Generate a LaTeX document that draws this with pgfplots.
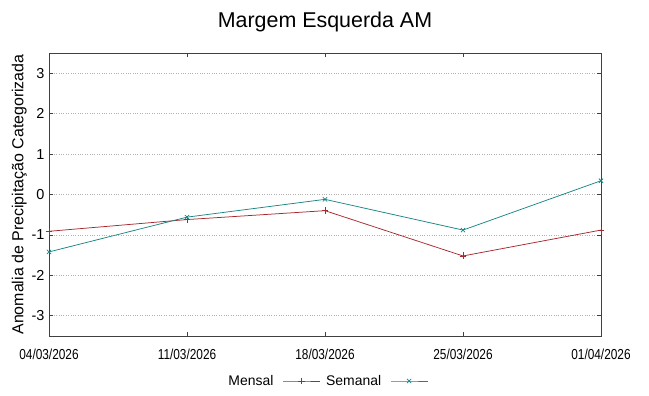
\documentclass[border=0pt]{standalone}
\usepackage{pgfplots}
\pgfplotsset{compat=1.18}
\usepackage{fontspec}
\setmainfont{Liberation Sans}
\definecolor{mensal}{HTML}{A82830}
\definecolor{semanal}{HTML}{1A8585}
\begin{document}
\begin{tikzpicture}
\path[use as bounding box] (-49bp,-60bp) rectangle (600bp,336bp);
\begin{axis}[
  at={(0,0)}, anchor=south west,
  scale only axis, width=552bp, height=283bp,
  xmin=0, xmax=4, ymin=-3.5, ymax=3.5,
  xtick={0,1,2,3,4},
  ytick={-3,-2,-1,0,1,2,3},
  tick align=inside, tick pos=both,
  major tick length=4bp,
  axis line style={draw=black!75, line width=0.9pt},
  every tick/.style={black!75, line width=0.8pt},
  ymajorgrids,
  grid style={dotted, gray!60, line width=0.7pt},
  /pgf/number format/assume math mode=true,
  yticklabel style={font=\fontsize{14.5}{16}\selectfont, xshift=-1bp},
  xticklabel style={font=\fontsize{14.5}{16}\selectfont, yshift=-10bp},
  xticklabels={\scalebox{0.82}[1]{04/03/2026},\scalebox{0.82}[1]{11/03/2026},\scalebox{0.82}[1]{18/03/2026},\scalebox{0.82}[1]{25/03/2026},\scalebox{0.82}[1]{01/04/2026}},
  ylabel={Anomalia de Precipitação Categorizada},
  ylabel style={font=\fontsize{16}{18}\selectfont, yshift=-2bp},
  title={Margem Esquerda AM},
  title style={font=\fontsize{21.5}{24}\selectfont, yshift=12bp},
  legend columns=2,
  legend plot pos=right,
  legend style={at={(0.504,-0.159)}, anchor=center, draw=none, fill=none,
    font=\fontsize{14}{16}\selectfont,
    /tikz/every odd column/.append style={column sep=7bp},
    /tikz/every even column/.append style={column sep=4bp}},
  legend image code/.code={\draw[mark repeat=2, mark phase=2, #1] plot coordinates {(0bp,0bp) (18.5bp,0bp) (37bp,0bp)};},
]
\addplot[color=mensal, line width=0.75pt, mark=+, mark size=3.5pt] coordinates {
(0,-0.91) (1,-0.62) (2,-0.40) (3,-1.52) (4,-0.88)};
\addlegendentry{Mensal}
\addplot[color=semanal, line width=0.75pt, mark=x, mark size=3pt] coordinates {
(0,-1.42) (1,-0.56) (2,-0.12) (3,-0.88) (4,0.34)};
\addlegendentry{Semanal}
\end{axis}
\end{tikzpicture}
\end{document}
